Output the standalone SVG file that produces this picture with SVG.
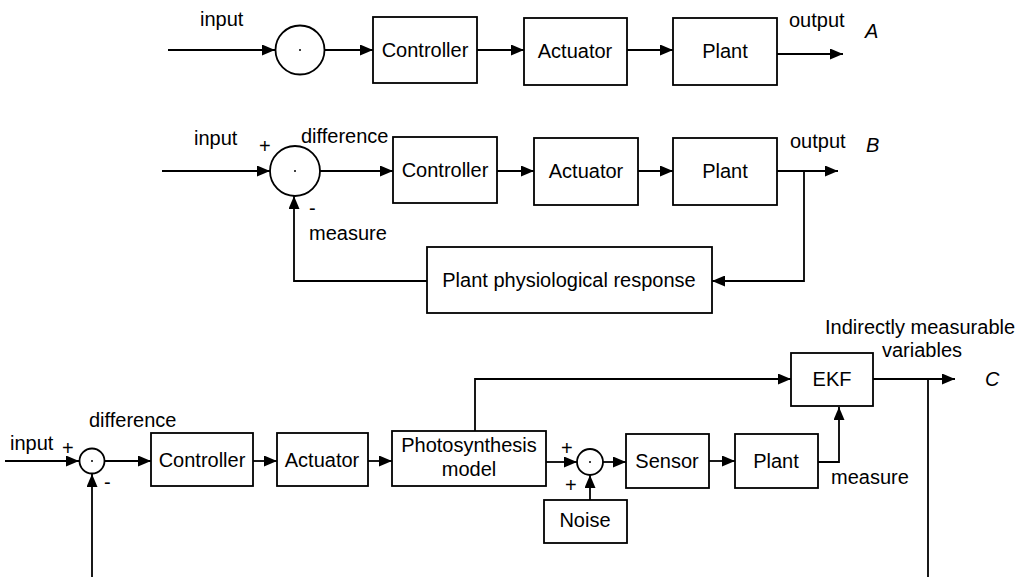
<svg xmlns="http://www.w3.org/2000/svg" width="1018" height="577" viewBox="0 0 1018 577">
<style>
.box{fill:#fff;stroke:#000;stroke-width:1.8}
.sum{fill:#fff;stroke:#000;stroke-width:1.8}
.ln{fill:none;stroke:#000;stroke-width:1.8}
.arr{marker-end:url(#ah)}
text{font-family:"Liberation Sans",Arial,sans-serif;font-size:20px;fill:#000}
.c{text-anchor:middle}
.it{font-style:italic}
</style>
<defs>
<marker id="ah" markerUnits="userSpaceOnUse" markerWidth="13" markerHeight="11" refX="13" refY="5.5" orient="auto">
<path d="M0,0 L13,5.5 L0,11 z" fill="#000"/>
</marker>
</defs>
<rect width="1018" height="577" fill="#fff"/>

<g id="connectors">
<!-- A -->
<line class="ln arr" x1="168" y1="50" x2="275" y2="50"/>
<line class="ln arr" x1="325" y1="50" x2="373" y2="50"/>
<line class="ln arr" x1="477" y1="50" x2="524" y2="50"/>
<line class="ln arr" x1="627" y1="50" x2="673" y2="50"/>
<line class="ln arr" x1="777" y1="54" x2="843" y2="54"/>
<!-- B -->
<line class="ln arr" x1="162" y1="171" x2="270" y2="171"/>
<line class="ln arr" x1="320" y1="171" x2="393" y2="171"/>
<line class="ln arr" x1="497" y1="171" x2="534" y2="171"/>
<line class="ln arr" x1="638" y1="171" x2="673" y2="171"/>
<line class="ln arr" x1="777" y1="171" x2="838" y2="171"/>
<polyline class="ln arr" points="804,171 804,281 712,281"/>
<polyline class="ln arr" points="427,281 294,281 294,196"/>
<!-- C -->
<line class="ln arr" x1="5" y1="461" x2="79" y2="461"/>
<line class="ln arr" x1="105" y1="461" x2="151" y2="461"/>
<line class="ln arr" x1="253" y1="461" x2="277" y2="461"/>
<line class="ln arr" x1="368" y1="461" x2="392" y2="461"/>
<line class="ln arr" x1="546" y1="462" x2="577" y2="462"/>
<line class="ln arr" x1="590" y1="500" x2="590" y2="475"/>
<line class="ln arr" x1="603" y1="462" x2="626" y2="462"/>
<line class="ln arr" x1="709" y1="461" x2="735" y2="461"/>
<polyline class="ln arr" points="818,462 839,462 839,407"/>
<polyline class="ln arr" points="475,431 475,379 791,379"/>
<line class="ln arr" x1="873" y1="379" x2="955" y2="379"/>
<line class="ln" x1="928" y1="379" x2="928" y2="577"/>
<line class="ln arr" x1="92" y1="577" x2="92" y2="474"/>
</g>

<!-- A nodes -->
<g id="sumA"><circle class="sum" cx="300" cy="50" r="24.5"/><circle cx="300" cy="50" r="1" fill="#000"/></g>
<g id="controllerA"><rect class="box" x="373" y="17" width="104" height="66"/><text class="c" x="425" y="57">Controller</text></g>
<g id="actuatorA"><rect class="box" x="524" y="18" width="103" height="67"/><text class="c" x="575" y="58">Actuator</text></g>
<g id="plantA"><rect class="box" x="673" y="18" width="104" height="67"/><text class="c" x="725" y="58">Plant</text></g>
<g id="labelsA">
<text x="200" y="26">input</text>
<text x="789" y="27">output</text>
<text class="it" x="865" y="38">A</text>
</g>

<!-- B nodes -->
<g id="sumB"><circle class="sum" cx="295" cy="171" r="25"/><circle cx="295" cy="171" r="1" fill="#000"/></g>
<g id="controllerB"><rect class="box" x="393" y="137" width="104" height="66"/><text class="c" x="445" y="177">Controller</text></g>
<g id="actuatorB"><rect class="box" x="534" y="138" width="104" height="67"/><text class="c" x="586" y="178">Actuator</text></g>
<g id="plantB"><rect class="box" x="673" y="138" width="104" height="67"/><text class="c" x="725" y="178">Plant</text></g>
<g id="responseB"><rect class="box" x="427" y="247" width="285" height="66"/><text class="c" x="569" y="287">Plant physiological response</text></g>
<g id="labelsB">
<text x="194" y="145">input</text>
<text x="259" y="153">+</text>
<text x="309" y="215">-</text>
<text x="301" y="143">difference</text>
<text x="309" y="240">measure</text>
<text x="790" y="148">output</text>
<text class="it" x="866" y="152">B</text>
</g>

<!-- C nodes -->
<g id="sumC1"><circle class="sum" cx="92" cy="461" r="12.5"/><circle cx="92" cy="461" r="1" fill="#000"/></g>
<g id="controllerC"><rect class="box" x="151" y="433" width="102" height="53"/><text class="c" x="202" y="467">Controller</text></g>
<g id="actuatorC"><rect class="box" x="277" y="433" width="91" height="53"/><text class="c" x="322" y="467">Actuator</text></g>
<g id="photosynthesis"><rect class="box" x="392" y="431" width="154" height="55"/><text class="c" x="469" y="452">Photosynthesis</text><text class="c" x="469" y="476">model</text></g>
<g id="sumC2"><circle class="sum" cx="590" cy="462" r="13"/><circle cx="590" cy="462" r="1" fill="#000"/></g>
<g id="noise"><rect class="box" x="544" y="500" width="83" height="43"/><text class="c" x="585" y="527">Noise</text></g>
<g id="sensor"><rect class="box" x="626" y="434" width="83" height="54"/><text class="c" x="667" y="468">Sensor</text></g>
<g id="plantC"><rect class="box" x="735" y="434" width="83" height="54"/><text class="c" x="776" y="468">Plant</text></g>
<g id="ekf"><rect class="box" x="791" y="353" width="82" height="53"/><text class="c" x="832" y="386">EKF</text></g>
<g id="labelsC">
<text x="10" y="450">input</text>
<text x="62" y="455">+</text>
<text x="104" y="489">-</text>
<text x="89" y="427">difference</text>
<text x="561" y="455">+</text>
<text x="565" y="492">+</text>
<text x="831" y="484">measure</text>
<text x="825" y="334">Indirectly measurable</text>
<text x="882" y="357">variables</text>
<text class="it" x="985" y="386">C</text>
</g>
</svg>
